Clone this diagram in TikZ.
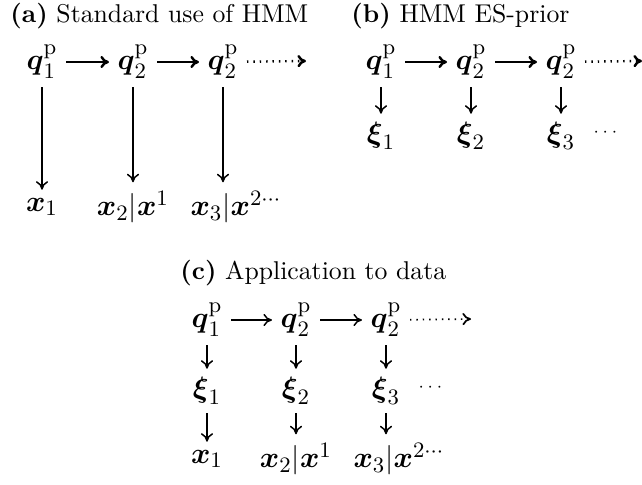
\documentclass[tikz,border=0pt]{standalone}
\usepackage{amsmath,amssymb}
\usepackage{tikz}
\usetikzlibrary{positioning,calc,arrows.meta}

\newcommand{\qp}[1]{\boldsymbol{q}^{\mathrm{p}}_{#1}}
\newcommand{\bxi}[1]{\boldsymbol{\xi}_{#1}}
\newcommand{\bx}[1]{\boldsymbol{x}_{#1}}

\begin{document}
\begin{tikzpicture}[x=0.408pt,y=-0.408pt,
        var/.style={inner sep=1pt,outer sep=2.5pt,font=\fontsize{13}{15}\selectfont},
        ttl/.style={anchor=west,inner sep=0pt,font=\fontsize{10.5}{12}\selectfont},
        arr/.style={-{To[length=3.5pt,width=5pt]},line width=0.6pt},
        harr/.style={arr,line width=1pt},
        darr/.style={arr,dotted,line width=1pt}]
        \useasboundingbox (0,0) rectangle (642,484);
        % (a)
        \node[ttl] (ta) at (10,16) {\textbf{(a)} Standard use of HMM};
        \node[var] (a1) at (42,62) {$\qp1$};
        \node[var] (a2) at (133,62) {$\qp2$};
        \node[var] (a3) at (223,62) {$\qp2$};
        \coordinate (ae) at (306,61);
        \node[var] (x1) at (42,207) {$\bx1$};
        \node[var] (x2) at (133,207) {$\bx2|\boldsymbol{x}^1$};
        \node[var,anchor=west] (x3) at (182,207) {$\bx3|\boldsymbol{x}^{2\cdots}$};
        \draw[harr] (a1) -- (a2);
        \draw[harr] (a2) -- (a3);
        \draw[darr] (a3) -- (ae);
        \draw[arr] (a1) -- (x1);
        \draw[arr] (a2) -- (x2);
        \draw[arr] (a3) -- (x3.north -| a3);
        % (b)
        \node[ttl] (tb) at (351,16) {\textbf{(b)} HMM ES-prior};
        \node[var] (b1) at (381,62) {$\qp1$};
        \node[var] (b2) at (471,62) {$\qp2$};
        \node[var] (b3) at (561,62) {$\qp2$};
        \coordinate (be) at (642,61);
        \node[var] (e1) at (381,136) {$\bxi1$};
        \node[var] (e2) at (471,136) {$\bxi2$};
        \node[var] (e3) at (561,136) {$\bxi3$};
        \node (bd) at (607,132) {\scriptsize$\cdots$};
        \draw[harr] (b1) -- (b2);
        \draw[harr] (b2) -- (b3);
        \draw[darr] (b3) -- (be);
        \foreach \i in {1,2,3} \draw[arr] (b\i) -- (e\i);
        % (c)
        \node[ttl] (tc) at (180,273) {\textbf{(c)} Application to data};
        \node[var] (c1) at (207,320) {$\qp1$};
        \node[var] (c2) at (296,320) {$\qp2$};
        \node[var] (c3) at (386,320) {$\qp2$};
        \coordinate (ce) at (471,319);
        \node[var] (f1) at (207,391) {$\bxi1$};
        \node[var] (f2) at (296,391) {$\bxi2$};
        \node[var] (f3) at (386,391) {$\bxi3$};
        \node (cd) at (432,387) {\scriptsize$\cdots$};
        \node[var] (y1) at (207,459) {$\bx1$};
        \node[var] (y2) at (296,459) {$\bx2|\boldsymbol{x}^1$};
        \node[var,anchor=west] (y3) at (345,459) {$\bx3|\boldsymbol{x}^{2\cdots}$};
        \draw[arr] (c1) -- (c2);
        \draw[arr] (c2) -- (c3);
        \draw[darr,line width=0.7pt] (c3) -- (ce);
        \foreach \i in {1,2,3} \draw[arr] (c\i) -- (f\i);
        \draw[arr] (f1) -- (y1);
        \draw[arr] (f2) -- (y2);
        \draw[arr] (f3) -- (y3.north -| f3);
    \end{tikzpicture}
\end{document}
